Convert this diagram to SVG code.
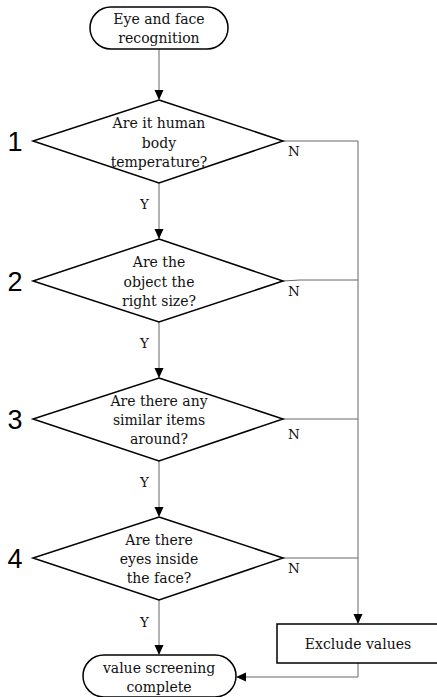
<svg xmlns="http://www.w3.org/2000/svg" width="437" height="697" viewBox="0 0 437 697">
<style>
.shape{fill:#fff;stroke:#000;stroke-width:1.5}
.t{font-family:"DejaVu Serif","Liberation Serif",serif;font-size:14px;fill:#111;text-anchor:middle}
.lab{font-family:"DejaVu Serif","Liberation Serif",serif;font-size:13.5px;fill:#111}
.num{font-family:"Liberation Sans",Arial,sans-serif;font-size:27px;fill:#000;text-anchor:middle}
.c{fill:none;stroke:#666;stroke-width:1}
</style>
<defs>
<marker id="ah" markerWidth="10" markerHeight="10" refX="9" refY="5" orient="auto" markerUnits="userSpaceOnUse">
<path d="M0,0.5 L10,5 L0,9.5 Z" fill="#000"/>
</marker>
</defs>
<g id="connectors">
<path class="c" d="M159,49 V99" marker-end="url(#ah)"/>
<path class="c" d="M159,183 V238" marker-end="url(#ah)"/>
<path class="c" d="M159,322 V377" marker-end="url(#ah)"/>
<path class="c" d="M159,461 V516" marker-end="url(#ah)"/>
<path class="c" d="M159,600 V654" marker-end="url(#ah)"/>
<path class="c" d="M283,141 H358 V623" marker-end="url(#ah)"/>
<path class="c" d="M283,281 L300,280 H358"/>
<path class="c" d="M283,419 H358"/>
<path class="c" d="M283,558 H358"/>
<path class="c" d="M358,663 V677 H237" marker-end="url(#ah)"/>
<text class="lab" x="140" y="209">Y</text>
<text class="lab" x="140" y="348">Y</text>
<text class="lab" x="140" y="487">Y</text>
<text class="lab" x="140" y="627">Y</text>
<text class="lab" x="288" y="156">N</text>
<text class="lab" x="288" y="296">N</text>
<text class="lab" x="288" y="439">N</text>
<text class="lab" x="288" y="573">N</text>
</g>
<g id="start">
<rect class="shape" x="90" y="7" width="138" height="42" rx="21"/>
<text class="t" x="159" y="24">Eye and face</text>
<text class="t" x="159" y="43">recognition</text>
</g>
<g id="d1">
<polygon class="shape" points="159,100 283,141 159,183 33,141"/>
<text class="t" x="159" y="128">Are it human</text>
<text class="t" x="159" y="148">body</text>
<text class="t" x="159" y="167">temperature?</text>
<text class="num" x="15" y="151">1</text>
</g>
<g id="d2">
<polygon class="shape" points="159,239 283,281 159,322 33,281"/>
<text class="t" x="159" y="267">Are the</text>
<text class="t" x="159" y="287">object the</text>
<text class="t" x="159" y="306">right size?</text>
<text class="num" x="15" y="291">2</text>
</g>
<g id="d3">
<polygon class="shape" points="159,378 283,419 159,461 33,419"/>
<text class="t" x="159" y="406">Are there any</text>
<text class="t" x="159" y="425">similar items</text>
<text class="t" x="159" y="444">around?</text>
<text class="num" x="15" y="429">3</text>
</g>
<g id="d4">
<polygon class="shape" points="159,517 283,558 159,600 33,558"/>
<text class="t" x="159" y="545">Are there</text>
<text class="t" x="159" y="564">eyes inside</text>
<text class="t" x="159" y="583">the face?</text>
<text class="num" x="15" y="568">4</text>
</g>
<g id="exclude">
<rect class="shape" x="277" y="624" width="162" height="39"/>
<text class="t" x="358" y="649">Exclude values</text>
</g>
<g id="end">
<rect class="shape" x="83" y="655" width="153" height="42" rx="21"/>
<text class="t" x="159" y="673">value screening</text>
<text class="t" x="159" y="692">complete</text>
</g>
</svg>
